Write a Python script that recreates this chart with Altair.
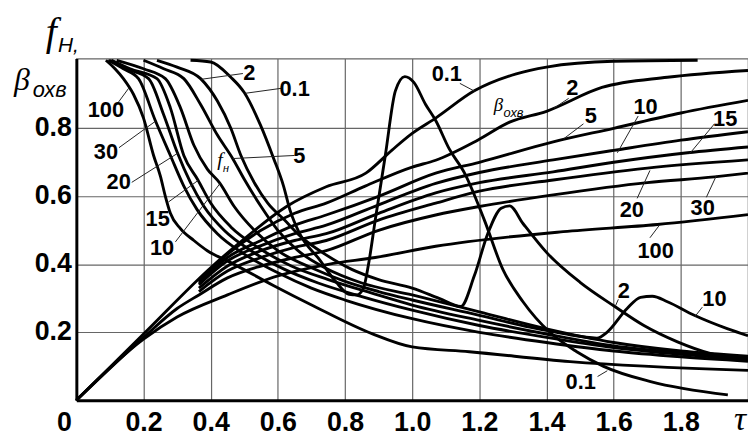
import altair as alt
import pandas as pd

# ---------------- data: f_H curves (falling) ----------------
fh_100 = [(0.088,1.0),(0.115,0.975),(0.14,0.946),(0.17,0.9),(0.2,0.83),(0.23,0.72),(0.25,0.66),(0.265,0.6),
          (0.28,0.55),(0.31,0.505),(0.35,0.47),(0.39,0.44),(0.46,0.405),(0.588,0.337),(0.705,0.278),
          (0.88,0.196),(1.0,0.157),(1.17,0.143),(1.47,0.114),(2.0,0.088)]
fh_30 = [(0.095,1.0),(0.14,0.975),(0.185,0.946),(0.235,0.823),(0.28,0.72),(0.32,0.63),(0.36,0.56),(0.42,0.49),
         (0.5,0.43),(0.6,0.375),(0.7,0.33),(0.8,0.295),(1.0,0.24),(1.2,0.2),(1.4,0.17),(1.6,0.145),(1.8,0.128),(2.0,0.115)]
fh_20 = [(0.1,1.0),(0.15,0.975),(0.215,0.946),(0.26,0.84),(0.30,0.73),(0.34,0.64),(0.38,0.57),(0.44,0.5),
         (0.52,0.44),(0.62,0.385),(0.72,0.345),(0.85,0.305),(1.0,0.265),(1.2,0.22),(1.4,0.185),(1.6,0.155),(1.8,0.135),(2.0,0.12)]
fh_15 = [(0.105,1.0),(0.16,0.975),(0.24,0.946),(0.28,0.86),(0.32,0.72),(0.362,0.648),(0.40,0.58),(0.46,0.51),
         (0.54,0.45),(0.64,0.395),(0.75,0.355),(0.88,0.315),(1.0,0.28),(1.2,0.235),(1.4,0.195),(1.6,0.16),(1.8,0.14),(2.0,0.125)]
fh_10 = [(0.12,1.0),(0.2,0.975),(0.265,0.946),(0.31,0.86),(0.35,0.75),(0.39,0.68),(0.426,0.64),(0.47,0.57),
         (0.53,0.5),(0.6,0.44),(0.7,0.39),(0.8,0.35),(0.9,0.32),(1.0,0.295),(1.2,0.25),(1.35,0.215),(1.45,0.196),
         (1.55,0.183),(1.58,0.2),(1.64,0.27),(1.68,0.303),(1.715,0.306),(1.76,0.29),(1.84,0.25),(1.94,0.21),(2.0,0.19)]
fh_5 = [(0.2,1.0),(0.26,0.975),(0.32,0.946),(0.37,0.87),(0.42,0.78),(0.465,0.712),(0.5,0.65),(0.55,0.57),
        (0.6,0.5),(0.66,0.44),(0.74,0.39),(0.85,0.345),(1.0,0.31),(1.2,0.26),(1.4,0.21),(1.6,0.17),(1.8,0.145),(2.0,0.13)]
fh_2 = [(0.24,1.0),(0.3,0.98),(0.37,0.946),(0.42,0.88),(0.46,0.8),(0.49,0.72),(0.53,0.64),(0.57,0.58),
        (0.62,0.53),(0.67,0.48),(0.74,0.43),(0.82,0.385),(0.9,0.355),(1.0,0.33),(1.08,0.3),(1.145,0.276),
        (1.185,0.366),(1.225,0.49),(1.265,0.565),(1.29,0.572),(1.33,0.52),(1.4,0.435),(1.5,0.347),(1.6,0.278),
        (1.69,0.22),(1.79,0.172),(1.89,0.137),(2.0,0.117)]
fh_01 = [(0.34,1.0),(0.40,0.995),(0.46,0.95),(0.50,0.905),(0.548,0.81),(0.588,0.71),(0.617,0.63),(0.636,0.56),
         (0.665,0.49),(0.724,0.414),(0.774,0.347),(0.812,0.312),(0.835,0.31),(0.855,0.33),(0.87,0.4),(0.89,0.53),
         (0.92,0.72),(0.95,0.91),(0.978,0.952),(1.005,0.935),(1.04,0.87),(1.07,0.823),(1.11,0.74),(1.156,0.668),
         (1.215,0.53),(1.27,0.385),(1.33,0.29),(1.41,0.2),(1.49,0.143),(1.57,0.1),(1.71,0.055),(1.94,0.016)]

# ---------------- data: beta curves (rising) ----------------
b_01 = [(0.0,0.0),(0.2,0.195),(0.4,0.39),(0.5,0.475),(0.626,0.57),(0.744,0.628),(0.862,0.668),(0.94,0.736),
        (1.0,0.785),(1.07,0.83),(1.185,0.91),(1.31,0.96),(1.4,0.98),(1.6,0.997),(1.85,1.0)]
b_2 = [(0.365,0.35),(0.45,0.43),(0.55,0.5),(0.65,0.55),(0.744,0.58),(0.86,0.63),(1.0,0.686),(1.07,0.706),
       (1.195,0.765),(1.29,0.818),(1.4,0.85),(1.565,0.92),(1.76,0.95),(2.0,0.97)]
b_5 = [(0.365,0.345),(0.45,0.42),(0.55,0.47),(0.65,0.515),(0.744,0.545),(0.9,0.6),(1.07,0.668),(1.2,0.7),
       (1.42,0.76),(1.6,0.8),(1.8,0.845),(2.0,0.882)]
b_10 = [(0.365,0.34),(0.45,0.41),(0.55,0.455),(0.65,0.49),(0.744,0.515),(0.9,0.575),(1.07,0.638),(1.2,0.67),
        (1.42,0.707),(1.6,0.735),(1.8,0.765),(2.0,0.79)]
b_15 = [(0.365,0.33),(0.45,0.395),(0.55,0.44),(0.65,0.47),(0.744,0.49),(0.9,0.55),(1.07,0.61),(1.2,0.64),
        (1.42,0.672),(1.6,0.7),(1.82,0.728),(2.0,0.745)]
b_20 = [(0.365,0.32),(0.45,0.38),(0.55,0.42),(0.65,0.45),(0.744,0.47),(0.9,0.53),(1.07,0.58),(1.2,0.615),
        (1.42,0.648),(1.7,0.683),(2.0,0.707)]
b_30 = [(0.0,0.0),(0.2,0.185),(0.3,0.27),(0.365,0.31),(0.45,0.36),(0.55,0.395),(0.65,0.42),(0.744,0.44),
        (0.9,0.5),(1.07,0.545),(1.2,0.57),(1.42,0.604),(1.7,0.64),(1.9,0.657),(2.0,0.668)]
b_100 = [(0.0,0.0),(0.2,0.18),(0.3,0.245),(0.45,0.31),(0.6,0.366),(0.75,0.40),(0.89,0.42),(1.07,0.453),
         (1.45,0.496),(1.73,0.517),(2.0,0.546)]

curves = {
    "fH 100": fh_100, "fH 30": fh_30, "fH 20": fh_20, "fH 15": fh_15, "fH 10": fh_10,
    "fH 5": fh_5, "fH 2": fh_2, "fH 0.1": fh_01,
    "b 0.1": b_01, "b 2": b_2, "b 5": b_5, "b 10": b_10, "b 15": b_15, "b 20": b_20,
    "b 30": b_30, "b 100": b_100,
}

# ---------------- annotation texts and leader lines ----------------
label_text = ["100", "30", "20", "15", "10", "5", "2", "0.1",
              "0.1", "2", "5", "10", "15", "20", "30", "100", "2", "10", "0.1"]
label_tau = [0.088, 0.088, 0.126, 0.242, 0.255, 0.664, 0.515, 0.65,
             1.103, 1.477, 1.532, 1.695, 1.932, 1.654, 1.865, 1.725, 1.63, 1.9, 1.502]
label_v = [0.853, 0.73, 0.643, 0.533, 0.447, 0.717, 0.962, 0.915,
           0.96, 0.917, 0.837, 0.862, 0.828, 0.56, 0.566, 0.44, 0.32, 0.298, 0.053]

leader_tau1 = [0.121, 0.127, 0.165, 0.274, 0.295, 0.649, 0.496, 0.614, 1.142, 1.466, 1.51, 1.673, 1.9,
               1.67, 1.876, 1.708, 1.614, 1.864, 1.552]
leader_v1 = [0.871, 0.743, 0.641, 0.583, 0.466, 0.72, 0.961, 0.918, 0.932, 0.888, 0.813, 0.836, 0.813,
             0.594, 0.597, 0.478, 0.297, 0.274, 0.07]
leader_tau2 = [0.156, 0.236, 0.304, 0.363, 0.428, 0.466, 0.372, 0.504, 1.186, 1.422, 1.451, 1.611, 1.826,
               1.708, 1.906, 1.737, 1.605, 1.841, 1.581]
leader_v2 = [0.918, 0.821, 0.728, 0.647, 0.638, 0.711, 0.944, 0.903, 0.909, 0.859, 0.769, 0.728, 0.725,
             0.676, 0.661, 0.516, 0.277, 0.245, 0.087]

x_ticks = [0.2, 0.4, 0.6, 0.8, 1.0, 1.2, 1.4, 1.6, 1.8]
y_ticks = [0.2, 0.4, 0.6, 0.8]

# ---------------- build tables ----------------
rows = []
for name, pts in curves.items():
    for i, (t, v) in enumerate(pts):
        rows.append({"curve": name, "i": i, "tau": t, "v": v})
df = pd.DataFrame(rows)
lab_df = pd.DataFrame({"text": label_text, "tau": label_tau, "v": label_v})
lead_df = pd.DataFrame({"t1": leader_tau1, "v1": leader_v1, "t2": leader_tau2, "v2": leader_v2})

XS = alt.Scale(domain=[0, 2.0], nice=False, zero=False)
YS = alt.Scale(domain=[0, 1.005], nice=False, zero=False)

lines = alt.Chart(df).mark_line(color="black", strokeWidth=2.9, interpolate="monotone").encode(
    x=alt.X("tau:Q", scale=XS, title=None,
            axis=alt.Axis(values=x_ticks, format=".1f", labelBaseline="top", labelPadding=9)),
    y=alt.Y("v:Q", scale=YS, title=None,
            axis=alt.Axis(values=y_ticks, format=".1f", labelPadding=5, labelOffset=-1)),
    detail="curve:N",
    order="i:Q",
)

leaders = alt.Chart(lead_df).mark_rule(color="#222", strokeWidth=1).encode(
    x=alt.X("t1:Q", scale=XS), y=alt.Y("v1:Q", scale=YS),
    x2="t2:Q", y2="v2:Q",
)

labels = alt.Chart(lab_df).mark_text(font="Liberation Sans", fontSize=22, fontWeight="bold",
                                     color="black", align="center", baseline="middle").encode(
    x=alt.X("tau:Q", scale=XS), y=alt.Y("v:Q", scale=YS), text="text:N",
)

# axis-corner texts and title pieces
title_pieces = [
    # text, tau, v, font, size, style, align
    ("f", -0.075, 1.046, "Liberation Serif", 40, "italic", "center"),
    ("Н,", -0.055, 1.025, "Liberation Sans", 21, "italic", "left"),
    ("β", -0.162, 0.912, "Liberation Serif", 32, "italic", "center"),
    ("охв", -0.13, 0.891, "Liberation Sans", 22, "italic", "left"),
    ("f", 0.428, 0.69, "Liberation Serif", 20, "italic", "center"),
    ("н", 0.437, 0.672, "Liberation Sans", 11, "italic", "left"),
    ("β", 1.257, 0.851, "Liberation Serif", 19, "italic", "center"),
    ("охв", 1.272, 0.834, "Liberation Sans", 13, "italic", "left"),
]
layers = [lines, leaders, labels]
for txt, t, v, fnt, sz, sty, al in title_pieces:
    layers.append(
        alt.Chart(pd.DataFrame({"tau": [t], "v": [v], "text": [txt]})).mark_text(
            font=fnt, fontSize=sz, fontStyle=sty, align=al, baseline="alphabetic", color="black"
        ).encode(x=alt.X("tau:Q", scale=XS), y=alt.Y("v:Q", scale=YS), text="text:N")
    )

corner = pd.DataFrame({"tau": [0.0], "v": [0.0], "text": ["0"]})
layers.append(alt.Chart(corner).mark_text(font="Liberation Sans", fontSize=27, fontWeight="bold",
                                          color="black", dx=-12, dy=23, baseline="middle").encode(
    x=alt.X("tau:Q", scale=XS), y=alt.Y("v:Q", scale=YS), text="text:N"))
tau_lab = pd.DataFrame({"tau": [2.0], "v": [0.0], "text": ["τ"]})
layers.append(alt.Chart(tau_lab).mark_text(font="Liberation Serif", fontSize=34, fontStyle="italic",
                                           color="black", dx=-8, dy=30, baseline="alphabetic").encode(
    x=alt.X("tau:Q", scale=XS), y=alt.Y("v:Q", scale=YS), text="text:N"))

chart = alt.layer(*layers).properties(
    width=678, height=345,
    autosize=alt.AutoSizeParams(type="none"),
    padding={"left": 69, "top": 49, "right": 0, "bottom": 38},
).configure_view(stroke="#666", strokeWidth=1.2).configure_axis(
    grid=True, gridColor="#666", gridWidth=1.2, domainColor="black", domainWidth=3,
    ticks=False, tickSize=0, labelFont="Liberation Sans", labelFontSize=27, labelFontWeight="bold",
    labelColor="black",
)

chart.save("out.html", embed_options={"renderer": "svg", "actions": False})
